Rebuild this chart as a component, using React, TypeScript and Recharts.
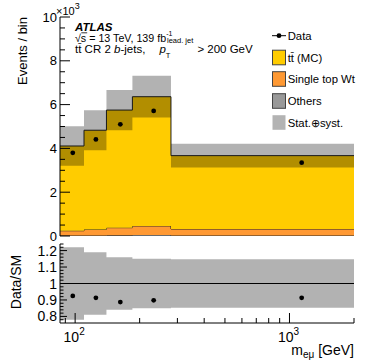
import { ComposedChart, Area, Scatter, XAxis, YAxis, ReferenceLine } from 'recharts';

// bin edges in GeV, values in 10^3 events
const binEdges = [85, 110, 140, 185, 280, 2000];
const ttbar = [3.87, 4.53, 5.37, 5.9, 3.35];
const singleTopWt = [0.22, 0.28, 0.35, 0.41, 0.3];
const others = [0.02, 0.02, 0.03, 0.05, 0.02];
const dataCounts = [3.8, 4.41, 5.1, 5.71, 3.35];
const relUnc = [0.22, 0.19, 0.16, 0.15, 0.148];

const xTicks = [90, 100, 200, 300, 400, 500, 600, 700, 800, 900, 1000, 2000];
const xMajor = [100, 1000];
const yTicks = [0, 0.5, 1, 1.5, 2, 2.5, 3, 3.5, 4, 4.5, 5, 5.5, 6, 6.5, 7, 7.5, 8, 8.5, 9, 9.5, 10];
const yLabels = [0, 2, 4, 6, 8, 10];
const rTicks = [0.78, 0.8, 0.82, 0.84, 0.86, 0.88, 0.9, 0.92, 0.94, 0.96, 0.98, 1, 1.02, 1.04, 1.06, 1.08, 1.1, 1.12, 1.14, 1.16, 1.18, 1.2, 1.22, 1.24];
const rLabels = [0.8, 0.9, 1, 1.1, 1.2];

const FONT = '"Liberation Sans", Arial, sans-serif';
const YELLOW = '#ffcc00';
const ORANGE = '#ff9933';
const GREY = '#999999';
const EDGE = '#222';

const total = ttbar.map((t, i) => t + singleTopWt[i] + others[i]);

const histTable = binEdges.map((x, i) => {
  const k = Math.min(i, ttbar.length - 1);
  return {
    x,
    others: others[k],
    wt: singleTopWt[k],
    tt: ttbar[k],
    band: [total[k] * (1 - relUnc[k]), total[k] * (1 + relUnc[k])],
    rband: [1 - relUnc[k], 1 + relUnc[k]],
  };
});

const points = dataCounts.map((d, i) => ({
  x: (binEdges[i] + binEdges[i + 1]) / 2,
  y: d,
  r: d / total[i],
}));

const isIn = (arr: number[], v: number) => arr.some((a) => Math.abs(a - v) < 1e-6);

// tick marks drawn inside the frame
function xTick(dir: number, major: number, minor: number, labels: boolean) {
  return (p: any) => {
    const v = p.payload.value;
    const big = isIn(xMajor, v);
    const len = big ? major : minor;
    return (
      <g>
        <line x1={p.x} x2={p.x} y1={p.y} y2={p.y + dir * len} stroke="#000" />
        {labels && big && (
          <text fontFamily={FONT} fill="#000">
            <tspan x={p.x + 4} y={p.y + 18.5} fontSize={14} textAnchor="end">
              10
            </tspan>
            <tspan x={p.x + 4} y={p.y + 12} fontSize={10}>
              {v === 100 ? '2' : '3'}
            </tspan>
          </text>
        )}
      </g>
    );
  };
}

function yTick(dir: number, major: number, minor: number, majors: number[], showLabels: boolean, fs: number) {
  return (p: any) => {
    const v = p.payload.value;
    const big = isIn(majors, v);
    const len = big ? major : minor;
    return (
      <g>
        <line x1={p.x} x2={p.x + dir * len} y1={p.y} y2={p.y} stroke="#000" />
        {showLabels && big && (
          <text x={p.x - 3} y={p.y} dy="0.36em" textAnchor="end" fontSize={fs} fontFamily={FONT} fill="#000">
            {String(Math.round(v * 10) / 10)}
          </text>
        )}
      </g>
    );
  };
}

function MainPanel() {
  return (
    <ComposedChart width={374} height={246} data={histTable} margin={{ top: 17, right: 20, bottom: 10, left: 0 }}>
      <Area type="stepAfter" dataKey="others" stackId="mc" fill={GREY} fillOpacity={1} stroke={EDGE} strokeWidth={1} isAnimationActive={false} />
      <Area type="stepAfter" dataKey="wt" stackId="mc" fill={ORANGE} fillOpacity={1} stroke={EDGE} strokeWidth={1} isAnimationActive={false} />
      <Area type="stepAfter" dataKey="tt" stackId="mc" fill={YELLOW} fillOpacity={1} stroke={EDGE} strokeWidth={1} isAnimationActive={false} />
      <Area type="stepAfter" dataKey="band" fill="#000" fillOpacity={0.3} stroke="none" isAnimationActive={false} />
      <Scatter data={points} dataKey="y" fill="#000" isAnimationActive={false}
        shape={(p: any) => <circle cx={p.cx} cy={p.cy} r={2.4} fill="#000" />} />
      <XAxis dataKey="x" type="number" scale="log" domain={[85, 2000]} allowDataOverflow ticks={xTicks} interval={0}
        height={0} tickSize={0} tickMargin={0} tickLine={false} axisLine={{ stroke: '#000' }} tick={xTick(-1, 8, 4, false)} />
      <XAxis xAxisId="t" orientation="top" type="number" scale="log" domain={[85, 2000]} allowDataOverflow ticks={xTicks} interval={0}
        height={0} tickSize={0} tickMargin={0} tickLine={false} axisLine={{ stroke: '#000' }} tick={xTick(1, 8, 4, false)} />
      <YAxis type="number" domain={[0, 10]} allowDataOverflow ticks={yTicks} interval={0} width={60}
        tickSize={0} tickMargin={0} tickLine={false} axisLine={{ stroke: '#000' }} tick={yTick(1, 10, 5, yLabels, true, 13)} />
      <YAxis yAxisId="r" orientation="right" type="number" domain={[0, 10]} allowDataOverflow ticks={yTicks} interval={0} width={0}
        tickSize={0} tickMargin={0} tickLine={false} axisLine={{ stroke: '#000' }} tick={yTick(-1, 10, 5, yLabels, false, 13)} />
    </ComposedChart>
  );
}

function RatioPanel() {
  return (
    <ComposedChart width={374} height={123} data={histTable} margin={{ top: 4, right: 20, bottom: 0, left: 0 }}>
      <Area type="stepAfter" dataKey="rband" fill="#000" fillOpacity={0.3} stroke="none" isAnimationActive={false} />
      <ReferenceLine y={1} stroke="#000" strokeWidth={1.2} />
      <Scatter data={points} dataKey="r" fill="#000" isAnimationActive={false}
        shape={(p: any) => <circle cx={p.cx} cy={p.cy} r={2.4} fill="#000" />} />
      <XAxis dataKey="x" type="number" scale="log" domain={[85, 2000]} allowDataOverflow ticks={xTicks} interval={0}
        height={40} tickSize={0} tickMargin={0} tickLine={false} axisLine={{ stroke: '#000' }} tick={xTick(-1, 10, 5, true)} />
      <XAxis xAxisId="t" orientation="top" type="number" scale="log" domain={[85, 2000]} allowDataOverflow ticks={xTicks} interval={0}
        height={0} tickSize={0} tickMargin={0} tickLine={false} axisLine={{ stroke: '#000' }} tick={xTick(1, 10, 5, false)} />
      <YAxis type="number" domain={[0.76, 1.24]} allowDataOverflow ticks={rTicks} interval={0} width={60}
        tickSize={0} tickMargin={0} tickLine={false} axisLine={{ stroke: '#000' }} tick={yTick(1, 7, 3.5, rLabels, true, 14)} />
      <YAxis yAxisId="r" orientation="right" type="number" domain={[0.76, 1.24]} allowDataOverflow ticks={rTicks} interval={0} width={0}
        tickSize={0} tickMargin={0} tickLine={false} axisLine={{ stroke: '#000' }} tick={yTick(-1, 7, 3.5, rLabels, false, 14)} />
    </ComposedChart>
  );
}

const legendRows = [
  { label: 't\u0074\u0304 (MC)', fill: YELLOW, y: 57.5 },
  { label: 'Single top Wt', fill: ORANGE, y: 79 },
  { label: 'Others', fill: GREY, y: 101 },
  { label: 'Stat.\u2295syst.', fill: '#b3b3b3', y: 122.5, noEdge: true },
];

function Overlay() {
  const fs = 11.3;
  return (
    <svg width={374} height={363} style={{ position: 'absolute', left: 0, top: 0, pointerEvents: 'none' }} fontFamily={FONT}>
      <text x={56} y={15} fontSize={11}>
        ×10<tspan fontSize={9} dy={-6}>3</tspan>
      </text>
      <text x={26.5} y={17} fontSize={13} textAnchor="end" transform="rotate(-90 26.5 17)">Events / bin</text>
      <text x={20.5} y={282} fontSize={14} textAnchor="middle" transform="rotate(-90 20.5 282)">Data/SM</text>
      <text x={354} y={355} fontSize={14} textAnchor="end">
        m<tspan fontSize={10} dy={3}>eμ</tspan>
        <tspan dy={-3}> [GeV]</tspan>
      </text>

      <text x={75} y={30.7} fontSize={11.5} fontWeight="bold" fontStyle="italic">ATLAS</text>
      <text x={75} y={41.7} fontSize={10.7}>
        √s = 13 TeV, 139 fb<tspan fontSize={7} dy={-5.5}>-1</tspan>
      </text>
      <line x1={81.3} x2={87.2} y1={32.8} y2={32.8} stroke="#000" strokeWidth={0.8} />
      <text x={75} y={52.5} fontSize={11.5}>
        t{'\u0074\u0304'} CR 2 <tspan fontStyle="italic">b</tspan>-jets,
      </text>
      <text x={159.5} y={52.5} fontSize={11.5} fontStyle="italic">p</text>
      <text x={165.8} y={57.5} fontSize={7.5}>T</text>
      <text x={167} y={43} fontSize={7.5}>lead. jet</text>
      <text x={252.7} y={52.5} fontSize={11.5} textAnchor="end">&gt; 200 GeV</text>

      <line x1={272} x2={286} y1={35.7} y2={35.7} stroke="#000" strokeWidth={1} />
      <circle cx={279} cy={35.7} r={2.4} fill="#000" />
      <text x={287.7} y={39.7} fontSize={fs}>Data</text>
      {legendRows.map((r) => (
        <g key={r.label}>
          <rect x={272.5} y={r.y - 7.3} width={13} height={14.6} fill={r.fill} stroke={r.noEdge ? 'none' : '#444'} strokeWidth={1} />
          <text x={287.7} y={r.y + 4} fontSize={fs}>{r.label}</text>
        </g>
      ))}
    </svg>
  );
}

export default function App() {
  return (
    <div style={{ position: 'absolute', left: 0, top: 0, width: 374, height: 363, background: '#fff', fontFamily: FONT }}>
      <div style={{ position: 'absolute', left: 0, top: 0 }}>
        <MainPanel />
      </div>
      <div style={{ position: 'absolute', left: 0, top: 240 }}>
        <RatioPanel />
      </div>
      <Overlay />
    </div>
  );
}
